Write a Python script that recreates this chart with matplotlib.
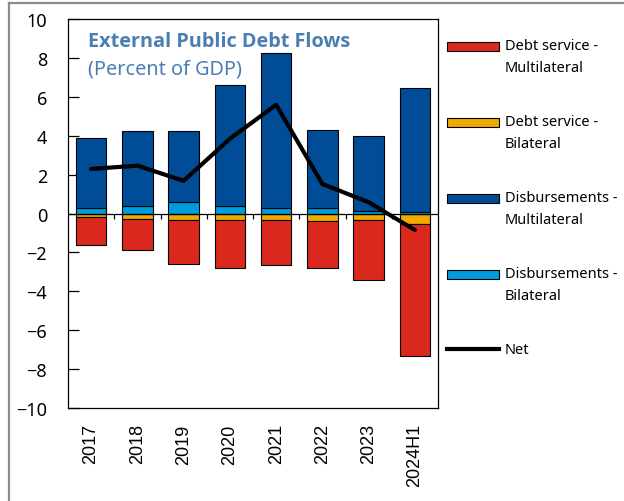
import matplotlib
matplotlib.use("Agg")
from matplotlib import pyplot as plt
from matplotlib.patches import Rectangle
from matplotlib.lines import Line2D
import numpy as np

years = ["2017", "2018", "2019", "2020", "2021", "2022", "2023", "2024H1"]
debt_service_multi = [-1.41, -1.62, -2.25, -2.46, -2.32, -2.43, -3.10, -6.81]
debt_service_bi = [-0.20, -0.28, -0.33, -0.33, -0.33, -0.36, -0.31, -0.52]
disb_multi = [3.63, 3.86, 3.66, 6.22, 8.00, 4.03, 3.84, 6.40]
disb_bi = [0.27, 0.37, 0.57, 0.37, 0.27, 0.27, 0.15, 0.07]
net = [2.29, 2.46, 1.68, 3.84, 5.59, 1.52, 0.58, -0.85]

labels = ["Debt service -\nMultilateral", "Debt service -\nBilateral",
          "Disbursements -\nMultilateral", "Disbursements -\nBilateral", "Net"]
colors = ["#DA291C", "#F2A900", "#004C97", "#009CDE"]
title_color = "#4C7FB1"

H, W = 502, 624
fig = plt.figure(figsize=(6.24, 5.02), dpi=100)
ax = fig.add_axes([68 / W, 93 / H, 370 / W, 389 / H])

x = np.arange(len(years))
w = 0.66
kw = dict(width=w, edgecolor="black", linewidth=0.8, zorder=2)
ax.bar(x, debt_service_bi, color=colors[1], **kw)
ax.bar(x, debt_service_multi, bottom=debt_service_bi, color=colors[0], **kw)
ax.bar(x, disb_bi, color=colors[3], **kw)
ax.bar(x, disb_multi, bottom=disb_bi, color=colors[2], **kw)
ax.plot(x, net, color="black", lw=3, zorder=3, solid_capstyle="round")

# zero line with small separators between categories
ax.axhline(0, color="black", lw=0.9, zorder=2.5)
ax.vlines(x[:-1] + 0.5, -0.3, 0, color="black", lw=0.9, zorder=2.5)

ax.set_xlim(-0.5, len(years) - 0.5)
ax.set_ylim(-10, 10)
ax.set_yticks(range(-10, 11, 2))
ax.set_xticks(x)
ax.set_xticklabels(years, rotation=90, fontsize=13, family="Liberation Sans")
ax.tick_params(axis="x", length=0, pad=11)
ax.tick_params(axis="y", direction="in", length=8, width=0.9, pad=15, labelsize=13)
for lab in ax.get_yticklabels():
    lab.set_family("Noto Sans")
for s in ax.spines.values():
    s.set_linewidth(0.9)

fig.text(88 / W, 1 - 42 / H, "External Public Debt Flows", fontsize=14.3,
         fontweight="bold", color=title_color, family="Open Sans", va="center", ha="left")
fig.text(88 / W, 1 - 69 / H, "(Percent of GDP)", fontsize=14.3,
         color=title_color, family="Noto Sans", va="center", ha="left")

# legend drawn on the figure, handle aligned with first label line
rows = [47, 123, 199, 275]
for i, y in enumerate(rows):
    fig.add_artist(Rectangle((447 / W, 1 - (y + 4.5) / H), 52 / W, 9 / H,
                             facecolor=colors[i], edgecolor="black", lw=0.8,
                             transform=fig.transFigure))
    first, second = labels[i].split("\n")
    fig.text(505 / W, 1 - y / H, first, fontsize=10.5, family="Noto Sans", va="center")
    fig.text(505 / W, 1 - (y + 22) / H, second, fontsize=10.5, family="Noto Sans", va="center")
fig.add_artist(Line2D([447 / W, 499 / W], [1 - 350 / H, 1 - 350 / H], color="black", lw=3,
                      transform=fig.transFigure))
fig.text(505 / W, 1 - 350 / H, labels[4], fontsize=10.5, family="Noto Sans", va="center")

# grey frame along the top and left edge
fig.add_artist(Line2D([9 / W, 1], [1 - 4 / H, 1 - 4 / H], color="#8C8C8C", lw=1.6,
                      transform=fig.transFigure))
fig.add_artist(Line2D([9 / W, 9 / W], [0, 1 - 4 / H], color="#8C8C8C", lw=1.6,
                      transform=fig.transFigure))

fig.savefig("out.png", dpi=100)
